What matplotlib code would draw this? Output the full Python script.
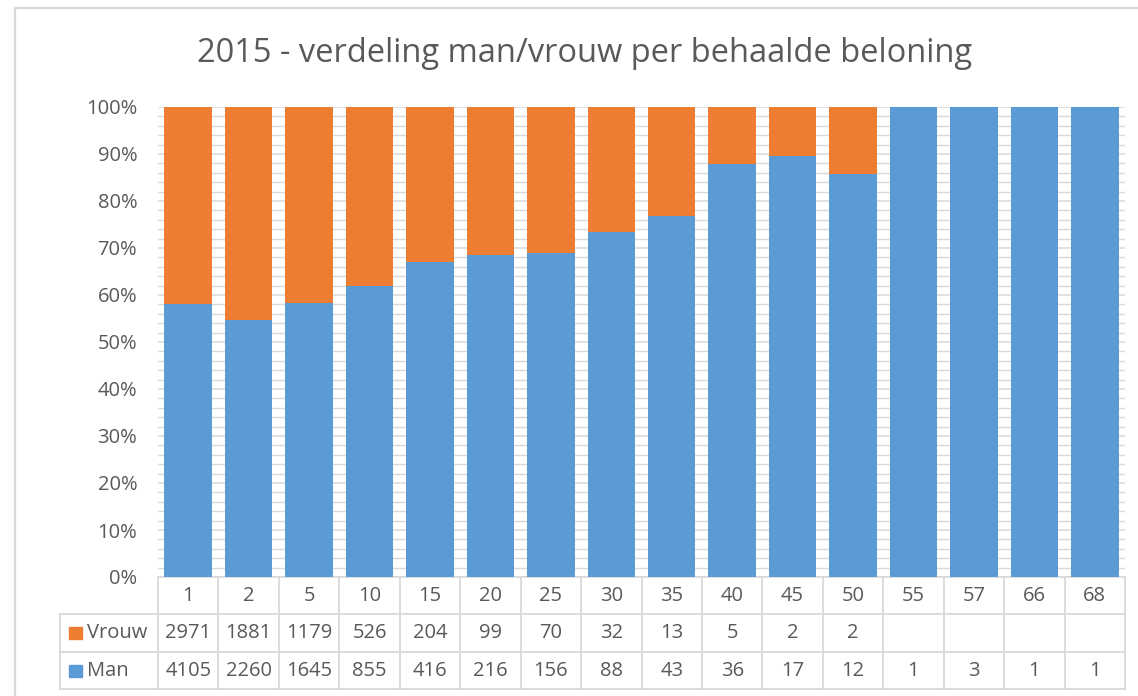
import matplotlib
matplotlib.use("Agg")
import matplotlib.pyplot as plt
import matplotlib.transforms as mtrans
from matplotlib.ticker import MultipleLocator, FuncFormatter
from matplotlib.lines import Line2D
from matplotlib.patches import Rectangle

categories = ["1", "2", "5", "10", "15", "20", "25", "30", "35", "40", "45", "50", "55", "57", "66", "68"]
vrouw = [2971, 1881, 1179, 526, 204, 99, 70, 32, 13, 5, 2, 2, None, None, None, None]
man = [4105, 2260, 1645, 855, 416, 216, 156, 88, 43, 36, 17, 12, 1, 3, 1, 1]
title = "2015 - verdeling man/vrouw per behaalde beloning"

BLUE = "#5B9BD5"
ORANGE = "#ED7D31"
GRID = "#D9D9D9"
TXT = "#595959"
FONT = ["Open Sans", "DejaVu Sans"]
plt.rcParams["font.family"] = FONT

W, H = 1138, 696
fig = plt.figure(figsize=(W / 100, H / 100), dpi=100)

# outer frame (left and top edges visible)
fig.add_artist(Line2D([15 / W, 15 / W], [0, 1 - 8 / H], color=GRID, lw=1.6))
fig.add_artist(Line2D([15 / W, 1], [1 - 8 / H, 1 - 8 / H], color=GRID, lw=1.6))

x0, x1, ytop, ybot = 158, 1125, 107, 577
ax = fig.add_axes([x0 / W, 1 - ybot / H, (x1 - x0) / W, (ybot - ytop) / H])

n = len(categories)
xs = list(range(n))
tot = [m + (v or 0) for m, v in zip(man, vrouw)]
man_p = [m / t for m, t in zip(man, tot)]
vrouw_p = [(v or 0) / t for v, t in zip(vrouw, tot)]

bw = 0.785
ax.bar(xs, man_p, width=bw, color=BLUE, zorder=3)
ax.bar(xs, vrouw_p, bottom=man_p, width=bw, color=ORANGE, zorder=3)

ax.set_xlim(-0.5, n - 0.5)
ax.set_ylim(0, 1)
ax.yaxis.set_major_locator(MultipleLocator(0.1))
ax.yaxis.set_minor_locator(MultipleLocator(0.02))
ax.yaxis.set_major_formatter(FuncFormatter(lambda v, p: f"{round(v * 100)}%"))
ax.grid(which="major", axis="y", color=GRID, lw=1.1, zorder=0)
ax.grid(which="minor", axis="y", color=GRID, lw=1.0, zorder=0)
ax.tick_params(axis="y", which="both", length=0, labelsize=14.5, labelcolor=TXT, pad=15)
ax.set_xticks([])
for s in ["top", "right", "left"]:
    ax.spines[s].set_visible(False)
ax.spines["bottom"].set_color(GRID)
ax.spines["bottom"].set_linewidth(1.2)

fig.text(585 / W, 1 - 53 / H, title, ha="center", va="center", fontsize=23.5, color=TXT)

# data table below the plot
tr = mtrans.blended_transform_factory(ax.transData, ax.transAxes)
ph = ybot - ytop
def ya(py):
    return (ybot - py) / ph
rows = [577, 614, 652, 689]
left_x = -0.5 - (x0 - 60) / ((x1 - x0) / n)
lkw = dict(color=GRID, lw=1.3, transform=tr, clip_on=False)
for i in range(n + 1):
    ax.plot([i - 0.5, i - 0.5], [ya(rows[0]), ya(rows[3])], **lkw)
ax.plot([left_x, left_x], [ya(rows[1]), ya(rows[3])], **lkw)
for r in rows[1:]:
    ax.plot([left_x, n - 0.5], [ya(r), ya(r)], **lkw)

tkw = dict(ha="center", va="center", fontsize=14.5, color=TXT, transform=tr, clip_on=False)
for i, c in enumerate(categories):
    ax.text(i, ya(596), c, **tkw)
    if vrouw[i] is not None:
        ax.text(i, ya(633), str(vrouw[i]), **tkw)
    ax.text(i, ya(671), str(man[i]), **tkw)

unit = (x1 - x0) / n
def xd(px):
    return -0.5 + (px - x0) / unit
sq = 12.5 / ph
for label, col, cy in [("Vrouw", ORANGE, 633), ("Man", BLUE, 671)]:
    ax.add_patch(Rectangle((xd(69), ya(cy) - sq / 2), 13 / unit, sq, color=col,
                           transform=tr, clip_on=False))
    ax.text(xd(87), ya(cy), label, ha="left", va="center", fontsize=14.5, color=TXT,
            transform=tr, clip_on=False)

fig.savefig("out.png", dpi=100)
